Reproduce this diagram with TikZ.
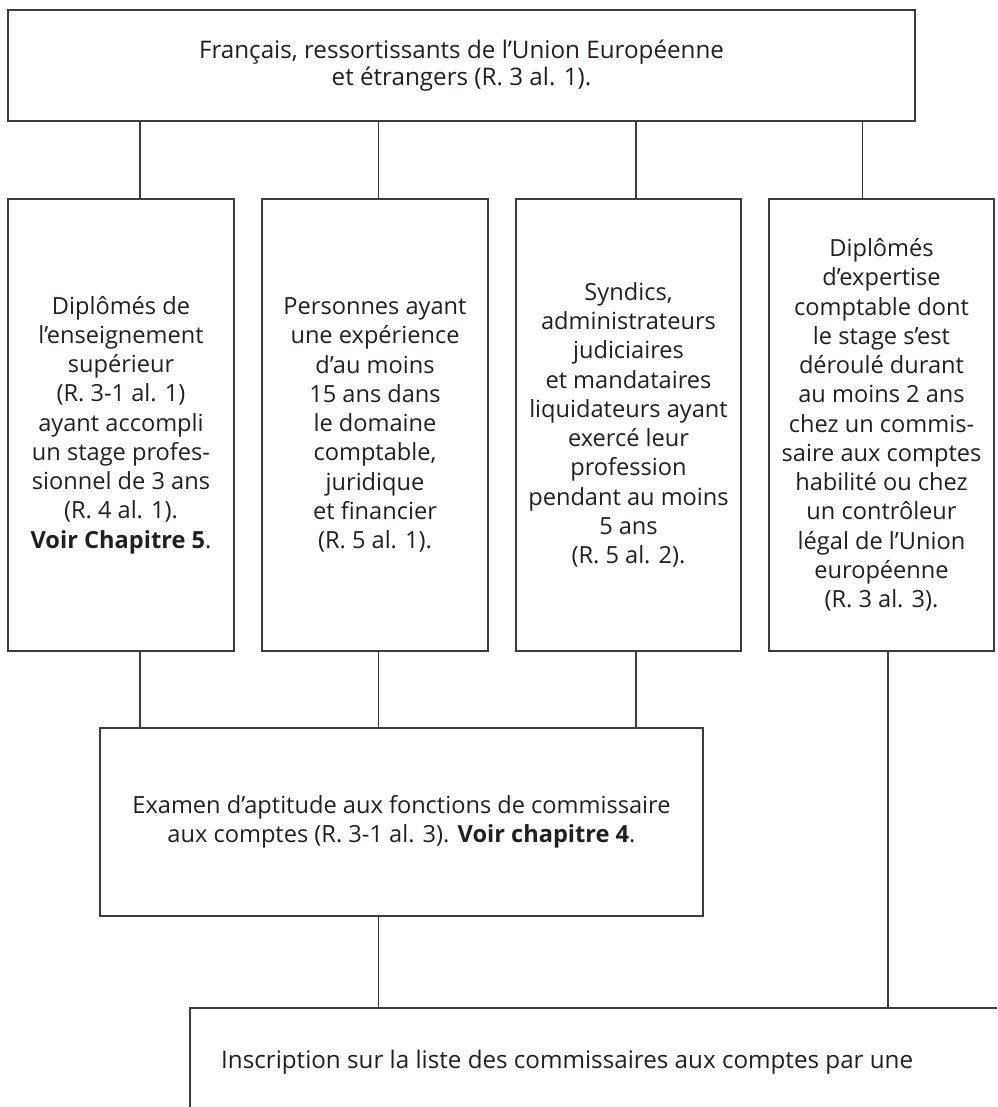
\documentclass[tikz,border=0pt]{standalone}
\usepackage{fontspec}
\setmainfont{Open Sans}
\definecolor{linegray}{HTML}{3C3C3C}
\definecolor{textblack}{HTML}{231F20}
\begin{document}
\begin{tikzpicture}[x=1pt,y=-1pt,
  boxtxt/.style={font=\fontsize{23.6}{29.25}\selectfont, text=textblack},
  box/.style={draw=linegray, line width=1.3pt, inner sep=0pt, align=center, boxtxt},
  link/.style={draw=linegray, line width=1.3pt}]
\useasboundingbox (0,0) rectangle (997,1107);
% top box
\node[box, minimum width=907pt, minimum height=111pt, font=\fontsize{24.2}{27.5}\selectfont] (top) at (461.5,65.5)
  {Français, ressortissants de l’Union Européenne\\et étrangers (R. 3 al. 1).};
% four boxes
\node[box, minimum width=226pt, minimum height=452pt] (b1) at (121,425)
  {Diplômés de\\l’enseignement\\supérieur\\(R. 3-1 al. 1)\\ayant accompli\\un stage profes-\\sionnel de 3 ans\\(R. 4 al. 1).\\\textbf{Voir Chapitre 5}.};
\node[box, minimum width=226pt, minimum height=452pt] (b2) at (375,425)
  {Personnes ayant\\une expérience\\d’au moins\\15 ans dans\\le domaine\\comptable,\\juridique\\et financier\\(R. 5 al. 1).};
\node[box, minimum width=225pt, minimum height=452pt] (b3) at (628.5,425)
  {Syndics,\\administrateurs\\judiciaires\\et mandataires\\liquidateurs ayant\\exercé leur\\profession\\pendant au moins\\5 ans\\(R. 5 al. 2).};
\node[box, minimum width=225pt, minimum height=452pt] (b4) at (881.5,425)
  {Diplômés\\d’expertise\\comptable dont\\le stage s’est\\déroulé durant\\au moins 2 ans\\chez un commis-\\saire aux comptes\\habilité ou chez\\un contrôleur\\légal de l’Union\\européenne\\(R. 3 al. 3).};
% exam box
\node[box, minimum width=603pt, minimum height=188pt] (exam) at (401.5,822)
  {Examen d’aptitude aux fonctions de commissaire\\aux comptes (R. 3-1 al. 3). \textbf{Voir chapitre 4}.};
% bottom (cut-off) box
\coordinate (btl) at (190,1008);
\draw[link] (997,1008) -- (btl) -- (190,1107);
\node[boxtxt, anchor=base west, inner sep=0pt, font=\fontsize{24.2}{29.25}\selectfont] (bottxt) at (221,1068)
  {Inscription sur la liste des commissaires aux comptes par une};
% connector x positions
\coordinate (xa) at (140,0);
\coordinate (xb) at (378.5,0);
\coordinate (xc) at (636,0);
\coordinate (xd) at (862.5,0);
\coordinate (xe) at (888,0);
% top to boxes
\draw[link] (top.south -| xa) -- (b1.north -| xa);
\draw[link] (top.south -| xb) -- (b2.north -| xb);
\draw[link] (top.south -| xc) -- (b3.north -| xc);
\draw[link] (top.south -| xd) -- (b4.north -| xd);
% boxes to exam
\draw[link] (b1.south -| xa) -- (exam.north -| xa);
\draw[link] (b2.south -| xb) -- (exam.north -| xb);
\draw[link] (b3.south -| xc) -- (exam.north -| xc);
% to bottom box
\draw[link] (exam.south -| xb) -- (btl -| xb);
\draw[link] (b4.south -| xe) -- (btl -| xe);
\end{tikzpicture}
\end{document}
